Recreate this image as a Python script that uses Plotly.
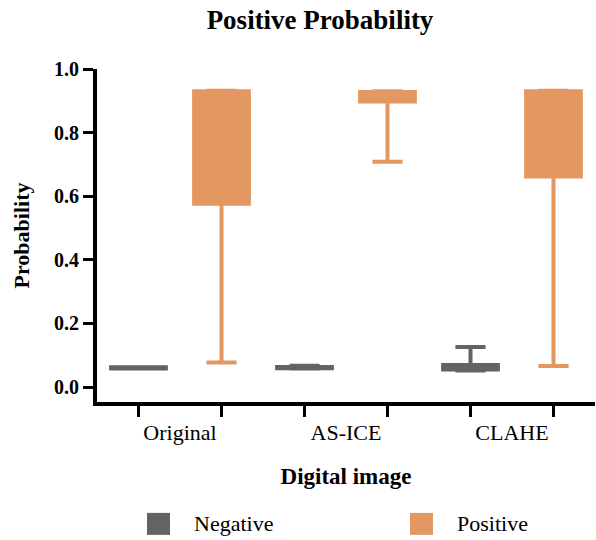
import plotly.graph_objects as go

# ---- data ----
categories = ["Original", "AS-ICE", "CLAHE"]
series = ["Negative", "Positive"]

neg_lower = [0.058, 0.058, 0.052]
neg_q1 = [0.058, 0.059, 0.055]
neg_median = [0.060, 0.061, 0.062]
neg_q3 = [0.062, 0.063, 0.069]
neg_upper = [0.062, 0.067, 0.126]

pos_lower = [0.077, 0.708, 0.066]
pos_q1 = [0.576, 0.898, 0.662]
pos_median = [0.930, 0.928, 0.930]
pos_q3 = [0.930, 0.928, 0.930]
pos_upper = [0.932, 0.930, 0.932]

y_ticks = [0.0, 0.2, 0.4, 0.6, 0.8, 1.0]

colors = {"Negative": "#636363", "Positive": "#E39862"}

# box slots: negative / positive alternate along x
neg_x = [2 * i for i in range(len(categories))]
pos_x = [2 * i + 1 for i in range(len(categories))]
cat_x = [2 * i + 0.5 for i in range(len(categories))]
slot_x = sorted(neg_x + pos_x)

fig = go.Figure()

def add_box(name, xs, lo, q1, med, q3, hi):
    c = colors[name]
    fig.add_trace(go.Box(
        name=name, x=xs, lowerfence=lo, q1=q1, median=med, q3=q3, upperfence=hi,
        fillcolor=c, line=dict(color=c, width=4), width=0.66, whiskerwidth=0.55,
        boxpoints=False, showlegend=False, hoverinfo="skip",
    ))

add_box("Negative", neg_x, neg_lower, neg_q1, neg_median, neg_q3, neg_upper)
add_box("Positive", pos_x, pos_lower, pos_q1, pos_median, pos_q3, pos_upper)

serif = "Liberation Serif, Times New Roman, serif"

fig.update_layout(
    width=596, height=540,
    margin=dict(l=97, r=1, t=69, b=138, autoexpand=False),
    plot_bgcolor="white", paper_bgcolor="white",
    font=dict(family=serif, color="black"),
    title=dict(text="<b>Positive Probability</b>", x=(320 / 596), xanchor="center",
               y=1 - 20 / 540, yanchor="middle", yref="container",
               font=dict(size=27, family=serif, color="black")),
    xaxis=dict(
        range=[-0.5, 5.5], showgrid=False, zeroline=False, automargin=False,
        showline=True, linecolor="black", linewidth=4,
        tickmode="array", tickvals=cat_x, ticktext=categories,
        ticks="outside", ticklen=8, tickcolor="rgba(0,0,0,0)",
        tickfont=dict(size=22, family=serif, color="black"),
        minor=dict(tickmode="array", tickvals=slot_x, ticks="outside",
                   ticklen=11, tickwidth=3, tickcolor="black", showgrid=False),
        title=dict(text="<b>Digital image</b>", standoff=24,
                   font=dict(size=23, family=serif, color="black")),
    ),
    yaxis=dict(
        range=[-0.047, 1.0], showgrid=False, zeroline=False, automargin=False,
        showline=True, linecolor="black", linewidth=4,
        tickmode="array", tickvals=y_ticks, ticktext=[f"{v:.1f}" for v in y_ticks],
        ticks="outside", ticklen=10, tickwidth=3, tickcolor="black",
        tickfont=dict(size=20, family=serif, color="black", weight="bold"),
        title=dict(text="<b>Probability</b>", standoff=19,
                   font=dict(size=22, family=serif, color="black")),
    ),
)

# legend drawn as swatches + labels below the plot
legend_pos = {"Negative": 0.1004, "Positive": 0.6285}
for name in series:
    x0 = legend_pos[name]
    fig.add_shape(type="rect", xref="paper", yref="paper",
                  x0=x0, x1=x0 + 0.0462, y0=-0.399, y1=-0.333,
                  fillcolor=colors[name], line=dict(width=0))
    fig.add_annotation(text=name, xref="paper", yref="paper",
                       x=x0 + 0.0904, y=-0.366, xanchor="left", yanchor="middle",
                       showarrow=False, font=dict(size=22, family=serif, color="black"))

fig.write_html("out.html", config={"displayModeBar": False},
               post_script="document.body.style.margin='0';")
